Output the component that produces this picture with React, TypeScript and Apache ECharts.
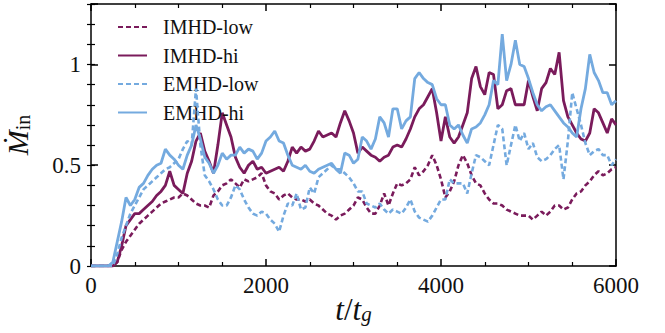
import React, { useEffect, useRef } from "react";
import * as echarts from "echarts";

// time axis: samples every T_STEP (t/t_g), from 0 to 6000
const T_STEP = 50;

const IMHD_LOW = [
  0, 0, 0, 0, 0, 0, 0.02, 0.08, 0.12, 0.15,
  0.18, 0.21, 0.23, 0.25, 0.27, 0.29, 0.31, 0.32, 0.33, 0.34,
  0.34, 0.36, 0.35, 0.33, 0.31, 0.30, 0.30, 0.29, 0.35, 0.37,
  0.40, 0.41, 0.43, 0.41, 0.39, 0.43, 0.42, 0.43, 0.44, 0.46,
  0.40, 0.37, 0.36, 0.33, 0.35, 0.36, 0.34, 0.33, 0.33, 0.32,
  0.33, 0.31, 0.30, 0.28, 0.26, 0.25, 0.23, 0.25, 0.26, 0.28,
  0.30, 0.34, 0.33, 0.29, 0.26, 0.26, 0.30, 0.36, 0.30, 0.36,
  0.41, 0.40, 0.41, 0.43, 0.49, 0.45, 0.47, 0.50, 0.55, 0.50,
  0.43, 0.34, 0.37, 0.42, 0.50, 0.55, 0.51, 0.45, 0.41, 0.40,
  0.36, 0.33, 0.31, 0.31, 0.30, 0.28, 0.27, 0.26, 0.25, 0.25,
  0.25, 0.23, 0.25, 0.27, 0.25, 0.27, 0.30, 0.30, 0.28, 0.29,
  0.33, 0.36, 0.37, 0.40, 0.42, 0.45, 0.47, 0.45, 0.46, 0.48,
  0.49,
];

const IMHD_HI = [
  0, 0, 0, 0, 0, 0, 0.02, 0.10, 0.20, 0.23,
  0.26, 0.26, 0.28, 0.30, 0.32, 0.35, 0.37, 0.40, 0.47, 0.40,
  0.38, 0.36, 0.46, 0.52, 0.62, 0.66, 0.57, 0.52, 0.46, 0.60,
  0.76, 0.70, 0.64, 0.54, 0.49, 0.46, 0.50, 0.52, 0.48, 0.49,
  0.46, 0.47, 0.48, 0.49, 0.47, 0.52, 0.59, 0.56, 0.59, 0.57,
  0.58, 0.62, 0.67, 0.64, 0.65, 0.66, 0.64, 0.71, 0.77, 0.72,
  0.66, 0.56, 0.59, 0.57, 0.55, 0.54, 0.52, 0.54, 0.55, 0.59,
  0.60, 0.59, 0.63, 0.68, 0.74, 0.78, 0.80, 0.84, 0.88, 0.76,
  0.62, 0.74, 0.64, 0.61, 0.64, 0.70, 0.76, 0.93, 0.99, 0.89,
  0.85, 0.96, 0.95, 0.78, 0.80, 0.87, 0.88, 0.80, 0.80, 0.80,
  0.92, 0.84, 0.77, 0.88, 0.91, 0.98, 0.95, 1.06, 0.82, 0.74,
  0.70, 0.66, 0.63, 0.62, 0.66, 0.78, 0.76, 0.71, 0.66, 0.73,
  0.70,
];

const EMHD_LOW = [
  0, 0, 0, 0, 0, 0, 0.06, 0.14, 0.20, 0.26,
  0.30, 0.34, 0.38, 0.40, 0.42, 0.44, 0.46, 0.48, 0.49, 0.51,
  0.53, 0.58, 0.62, 0.60, 0.88, 0.60, 0.45, 0.42, 0.38, 0.33,
  0.30, 0.30, 0.34, 0.40, 0.38, 0.33, 0.29, 0.26, 0.25, 0.27,
  0.26, 0.23, 0.21, 0.17, 0.25, 0.31, 0.30, 0.36, 0.28, 0.29,
  0.39, 0.36, 0.44, 0.46, 0.48, 0.50, 0.48, 0.48, 0.46, 0.44,
  0.41, 0.37, 0.37, 0.31, 0.30, 0.29, 0.31, 0.28, 0.26, 0.28,
  0.27, 0.26, 0.29, 0.33, 0.27, 0.24, 0.23, 0.22, 0.25, 0.29,
  0.33, 0.33, 0.43, 0.41, 0.41, 0.41, 0.36, 0.46, 0.55, 0.54,
  0.52, 0.50, 0.60, 0.70, 0.68, 0.50, 0.60, 0.70, 0.62, 0.66,
  0.58, 0.61, 0.54, 0.52, 0.53, 0.55, 0.58, 0.60, 0.43, 0.62,
  0.86, 0.78, 0.70, 0.61, 0.55, 0.57, 0.58, 0.55, 0.55, 0.50,
  0.53,
];

const EMHD_HI = [
  0, 0, 0, 0, 0, 0.02, 0.12, 0.22, 0.34, 0.30,
  0.33, 0.39, 0.41, 0.45, 0.48, 0.50, 0.51, 0.58, 0.55, 0.53,
  0.50, 0.48, 0.55, 0.60, 0.70, 0.63, 0.54, 0.51, 0.46, 0.50,
  0.56, 0.53, 0.55, 0.55, 0.59, 0.56, 0.58, 0.57, 0.53, 0.56,
  0.62, 0.64, 0.67, 0.62, 0.61, 0.55, 0.50, 0.49, 0.48, 0.50,
  0.47, 0.46, 0.48, 0.49, 0.50, 0.51, 0.48, 0.46, 0.56, 0.55,
  0.51, 0.53, 0.64, 0.62, 0.58, 0.63, 0.74, 0.71, 0.64, 0.78,
  0.78, 0.68, 0.72, 0.74, 0.93, 0.96, 0.93, 0.91, 0.90, 0.83,
  0.80, 0.80, 0.70, 0.68, 0.70, 0.65, 0.61, 0.68, 0.69, 0.71,
  0.75, 0.80, 0.92, 0.90, 1.15, 0.92, 1.00, 1.12, 1.00, 0.99,
  0.93, 0.86, 0.80, 0.77, 0.79, 0.80, 0.77, 0.74, 0.71, 0.69,
  0.66, 0.64, 0.78, 0.88, 1.05, 0.96, 0.92, 0.86, 0.86, 0.80,
  0.82,
];

const SERIES_NAMES = ["IMHD-low", "IMHD-hi", "EMHD-low", "EMHD-hi"];
const X_TICKS = [0, 2000, 4000, 6000];
const Y_TICK_LABELS = [0, 0.5, 1];

const PURPLE = "#7a1b5b";
const BLUE = "#74aadf";
const FONT = "Liberation Serif";

const toPairs = (vals: number[]) => vals.map((v, i) => [i * T_STEP, v]);

export default function App() {
  const ref = useRef<HTMLDivElement>(null);

  useEffect(() => {
    if (!ref.current) return;
    const chart = echarts.init(ref.current, null, { renderer: "svg" });

    const axisLine = { show: true, onZero: false, lineStyle: { color: "#000", width: 1.5 } };
    const majorTick = { show: true, inside: true, length: 7, lineStyle: { color: "#000", width: 1.5 } };
    const minorTickY = { show: true, inside: true, length: 4, lineStyle: { color: "#000", width: 1.2 } };

    const xBase = {
      type: "value",
      min: X_TICKS[0],
      max: X_TICKS[X_TICKS.length - 1],
      interval: X_TICKS[1] - X_TICKS[0],
      axisLine,
      axisTick: majorTick,
      minorTick: { show: true, splitNumber: 4, length: 4, lineStyle: { color: "#000", width: 1.2 } },
      splitLine: { show: false },
      minorSplitLine: { show: false },
    };

    const yBase = {
      type: "value",
      min: 0,
      max: 1.3,
      splitLine: { show: false },
    };

    const lineSeries = (name: string, vals: number[], color: string, dashed: boolean, z: number) => ({
      name,
      type: "line",
      data: toPairs(vals),
      xAxisIndex: 0,
      yAxisIndex: 0,
      symbol: "none",
      showSymbol: false,
      z,
      itemStyle: { color },
      lineStyle: { color, width: dashed ? 2.6 : 2.8, type: dashed ? [5, 3] : "solid" },
    });

    chart.setOption({
      animation: false,
      backgroundColor: "#fff",
      textStyle: { fontFamily: FONT },
      grid: { left: 91, right: 49, top: 4, bottom: 67, containLabel: false, outerBoundsMode: "none" },
      legend: {
        data: SERIES_NAMES,
        orient: "vertical",
        left: 112,
        top: 12,
        itemWidth: 29,
        itemHeight: 14,
        itemGap: 8.5,
        itemStyle: { opacity: 0 },
        textStyle: { fontFamily: FONT, fontSize: 20, color: "#111", padding: [0, 0, 0, 11] },
      },
      xAxis: [
        {
          ...xBase,
          position: "bottom",
          axisLabel: {
            show: true,
            fontFamily: FONT,
            fontSize: 23,
            color: "#111",
            margin: 8,
            formatter: (v: number) => String(v),
          },
          name: "{i|t}{r|/}{i|t}{g|g}",
          nameLocation: "middle",
          nameGap: 28,
          nameMoveOverlap: false,
          nameTextStyle: {
            rich: {
              i: { fontFamily: FONT, fontSize: 31, fontStyle: "italic", color: "#111", lineHeight: 30 },
              r: { fontFamily: FONT, fontSize: 31, color: "#111", lineHeight: 30 },
              g: { fontFamily: FONT, fontSize: 21, fontStyle: "italic", color: "#111", lineHeight: 14, verticalAlign: "bottom" },
            },
          },
        },
        { ...xBase, position: "top", axisLabel: { show: false } },
      ],
      yAxis: [
        {
          ...yBase,
          position: "left",
          interval: 0.5,
          axisLine,
          axisTick: majorTick,
          axisLabel: {
            show: true,
            fontFamily: FONT,
            fontSize: 23,
            color: "#111",
            margin: 10,
            formatter: (v: number) => {
              const hit = Y_TICK_LABELS.find((t) => Math.abs(t - v) < 1e-6);
              return hit === undefined ? "" : String(hit);
            },
          },
          name: "{m|\u1E40}{s|in}",
          nameLocation: "middle",
          nameRotate: 90,
          nameGap: 58,
          nameTextStyle: {
            rich: {
              m: { fontFamily: FONT, fontSize: 30, fontStyle: "italic", color: "#111", lineHeight: 32 },
              s: { fontFamily: FONT, fontSize: 20, color: "#111", lineHeight: 14, verticalAlign: "bottom" },
            },
          },
        },
        {
          ...yBase,
          position: "left",
          interval: 0.1,
          axisLine: { show: false },
          axisTick: minorTickY,
          axisLabel: { show: false },
        },
        {
          ...yBase,
          position: "right",
          interval: 0.5,
          axisLine,
          axisTick: majorTick,
          axisLabel: { show: false },
        },
        {
          ...yBase,
          position: "right",
          interval: 0.1,
          axisLine: { show: false },
          axisTick: minorTickY,
          axisLabel: { show: false },
        },
      ],
      series: [
        lineSeries(SERIES_NAMES[0], IMHD_LOW, PURPLE, true, 2),
        lineSeries(SERIES_NAMES[1], IMHD_HI, PURPLE, false, 3),
        lineSeries(SERIES_NAMES[2], EMHD_LOW, BLUE, true, 4),
        lineSeries(SERIES_NAMES[3], EMHD_HI, BLUE, false, 5),
      ],
    });

    return () => chart.dispose();
  }, []);

  return (
    <div
      ref={ref}
      style={{ position: "fixed", left: 0, top: 0, width: 665, height: 333, background: "#fff" }}
    />
  );
}
